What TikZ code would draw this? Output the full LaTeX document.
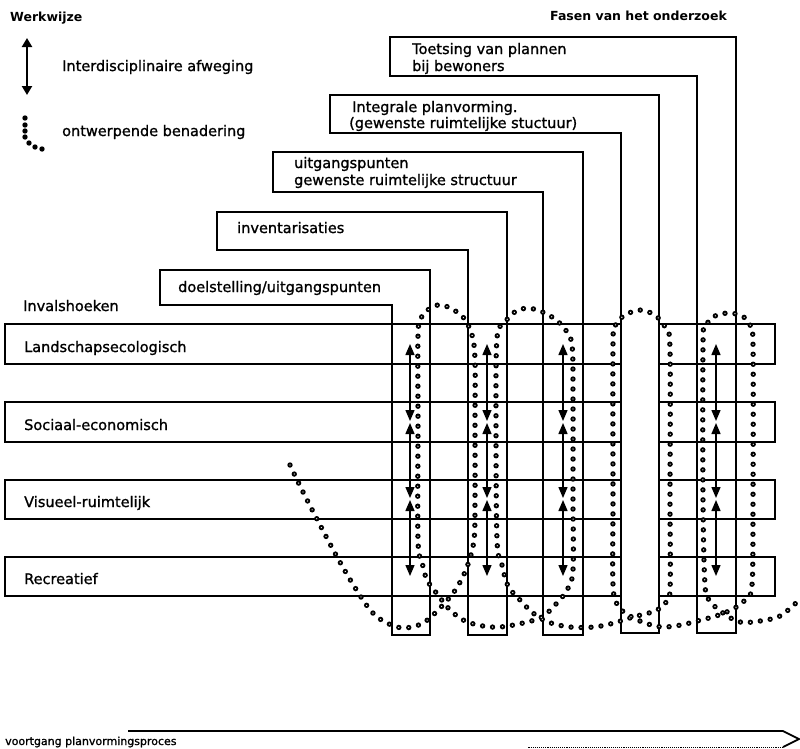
\documentclass[tikz,border=0pt]{standalone}
\usepackage{fontspec}
\setmainfont{DejaVu Sans}
\newfontfamily\heavyfont{DejaVu Sans}[FakeBold=1.2]
\usetikzlibrary{arrows.meta}
\begin{document}
\begin{tikzpicture}[x=1pt,y=-1pt,
  frame/.style={draw=black,line width=2.4pt,line join=miter},
  lbl/.style={anchor=base west,inner sep=0pt,font=\heavyfont\fontsize{14.5}{16}\selectfont},
  ttl/.style={anchor=base west,inner sep=0pt,font=\fontsize{12.5}{15}\selectfont\bfseries},
  small/.style={anchor=base west,inner sep=0pt,font=\heavyfont\fontsize{11}{13}\selectfont},
  biarrow/.style={line width=1.4pt,{Triangle[length=11pt,width=9pt]}-{Triangle[length=11pt,width=9pt]}},
  legarrow/.style={line width=2.4pt,{Triangle[length=9pt,width=10pt]}-{Triangle[length=9pt,width=10pt]}},
  dotouter/.style={draw=black,line width=5.4pt,line cap=round,dash pattern=on 0pt off 10pt},
  dotinner/.style={draw=white,line width=1.3pt,line cap=round,dash pattern=on 0pt off 10pt}
]
\useasboundingbox (0,0) rectangle (800,748);

% legend
\node[ttl] (werk) at (10,21) {Werkwijze};
\coordinate (la1) at (27,38);
\coordinate (la2) at (27,95);
\draw[legarrow] (la1) -- (la2);
\node[lbl] (inter) at (62,71) {Interdisciplinaire afweging};
\foreach \p in {(25,118),(25,125),(25,131),(25,137),(29,143),(35,147),(42,149)} {\fill[black] \p circle (2.7pt);}
\node[lbl] (ontw) at (62,136) {ontwerpende benadering};
\node[ttl] (fasen) at (550,20) {Fasen van het onderzoek};

% bands (invalshoeken)
\draw[frame] (5,324) rectangle (775,364);
\draw[frame] (5,402) rectangle (775,442);
\draw[frame] (5,480) rectangle (775,519);
\draw[frame] (5,557) rectangle (775,596);
\node[lbl] (inval) at (23,311) {Invalshoeken};
\node[lbl] (b1) at (24,352) {Landschapsecologisch};
\node[lbl] (b2) at (24,430) {Sociaal-economisch};
\node[lbl] (b3) at (24,507) {Visueel-ruimtelijk};
\node[lbl] (b4) at (24,584) {Recreatief};

% phases
\draw[frame] (160,270) -- (430,270) -- (430,635) -- (392,635) -- (392,305) -- (160,305) -- cycle;
\draw[frame] (217,212) -- (507,212) -- (507,635) -- (468,635) -- (468,250) -- (217,250) -- cycle;
\draw[frame] (273,152) -- (583,152) -- (583,635) -- (543,635) -- (543,192) -- (273,192) -- cycle;
\draw[frame,fill=white] (330,95) -- (659,95) -- (659,633) -- (621,633) -- (621,133) -- (330,133) -- cycle;
\draw[frame] (390,37) -- (736,37) -- (736,633) -- (697,633) -- (697,76) -- (390,76) -- cycle;

\node[lbl] (p1) at (178,292) {doelstelling/uitgangspunten};
\node[lbl] (p2) at (237,233) {inventarisaties};
\node[lbl] (p3a) at (294,168) {uitgangspunten};
\node[lbl] (p3b) at (294,185) {gewenste ruimtelijke structuur};
\node[lbl] (p4a) at (352,112) {Integrale planvorming.};
\node[lbl] (p4b) at (349,128) {(gewenste ruimtelijke stuctuur)};
\node[lbl] (p5a) at (412,54) {Toetsing van plannen};
\node[lbl] (p5b) at (412,71) {bij bewoners};

% interdisciplinary arrows
\foreach \x in {410,487,563,716} {
  \coordinate (a1) at (\x,344); \coordinate (a2) at (\x,421);
  \coordinate (a3) at (\x,423); \coordinate (a4) at (\x,498);
  \coordinate (a5) at (\x,500); \coordinate (a6) at (\x,576);
  \draw[biarrow] (a1) -- (a2);
  \draw[biarrow] (a3) -- (a4);
  \draw[biarrow] (a5) -- (a6);
}

% design approach (dotted coil)
\def\coilpts{(290,465) (302,490) (319,523) (336,555) (354,586) (371,611) (385,622) (403,628) (423,623) (441,607) (456,589) (467,567) (474,540) (475,500) (475,420) (475,360) (472,335) (463,317) (448,307) (438,305) (429,309) (421,318) (418,335) (418,420) (418,540) (422,562) (427,580) (438,595) (450,610) (465,621) (483,626) (500,627) (523,623) (542,617) (556,604) (567,590) (573,570) (573,500) (573,400) (572,345) (564,328) (552,317) (534,309) (518,310) (505,322) (497,338) (496,420) (497,540) (502,565) (508,586) (520,600) (533,613) (548,622) (570,627) (594,627) (614,623) (633,617) (655,611) (665,603) (670,590) (670,500) (670,350) (666,329) (656,316) (641,310) (625,315) (615,326) (613,345) (613,500) (613,585) (618,606) (630,616) (645,623) (662,627) (681,625) (697,621) (716,616) (733,609) (745,600) (752,585) (753,500) (753,345) (750,325) (742,316) (728,313) (713,317) (705,328) (703,345) (703,500) (705,585) (710,601) (723,613) (740,622) (760,621) (780,616) (797,602)}
\draw[dotouter] plot[smooth,tension=0.55] coordinates {\coilpts};
\draw[dotinner] plot[smooth,tension=0.55] coordinates {\coilpts};

% progress arrow
\node[small] (prog) at (5,745) {voortgang planvormingsproces};
\coordinate (g1) at (128,731);
\coordinate (g2) at (783,731);
\coordinate (g3) at (799,739);
\coordinate (g4) at (783,747);
\coordinate (g5) at (527,747);
\draw[line width=1.8pt] (g1) -- (g2) -- (g3) -- (g4);
\draw[line width=0.9pt,densely dotted] (g4) -- (g5);
\end{tikzpicture}
\end{document}
